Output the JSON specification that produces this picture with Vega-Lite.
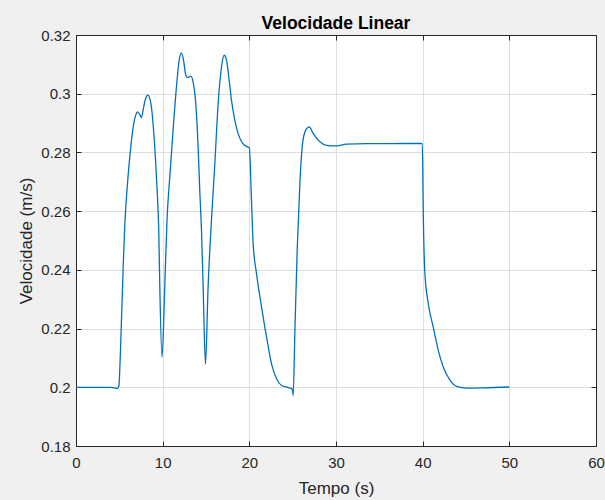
{
  "$schema": "https://vega.github.io/schema/vega-lite/v6.json",
  "autosize": "none",
  "width": 520,
  "height": 411,
  "padding": {"left": 76, "top": 35, "right": 9, "bottom": 54},
  "background": "#f0f0f0",
  "view": {"fill": "white", "stroke": null},
  "config": {
    "font": "Liberation Sans",
    "axis": {
      "domainColor": "#262626",
      "domainWidth": 1,
      "tickColor": "#262626",
      "tickSize": -5,
      "labelColor": "#262626",
      "labelFontSize": 15,
      "labelFont": "Liberation Sans",
      "titleFont": "Liberation Sans",
      "titleFontSize": 17,
      "titleFontWeight": "normal",
      "titleColor": "#262626",
      "gridColor": "#dedede",
      "gridWidth": 1
    }
  },
  "title": {
    "text": "Velocidade Linear",
    "fontSize": 17.5,
    "fontWeight": "bold",
    "color": "#000000",
    "anchor": "middle",
    "offset": 1,
    "dy": 5,
    "font": "Liberation Sans"
  },
  "data": {
    "values": [
      {"t": 0, "v": 0.2},
      {"t": 2, "v": 0.2},
      {"t": 4, "v": 0.2},
      {"t": 4.5, "v": 0.1998},
      {"t": 4.8, "v": 0.1996},
      {"t": 4.95, "v": 0.2005},
      {"t": 5.12, "v": 0.2114},
      {"t": 5.43, "v": 0.2398},
      {"t": 5.62, "v": 0.2546},
      {"t": 6.0, "v": 0.2716},
      {"t": 6.32, "v": 0.2818},
      {"t": 6.66, "v": 0.2898},
      {"t": 6.9, "v": 0.2928},
      {"t": 7.09, "v": 0.2938},
      {"t": 7.3, "v": 0.2932},
      {"t": 7.55, "v": 0.2919},
      {"t": 7.75, "v": 0.2945},
      {"t": 7.93, "v": 0.2972},
      {"t": 8.15, "v": 0.2992},
      {"t": 8.32, "v": 0.2995},
      {"t": 8.5, "v": 0.2985},
      {"t": 8.7, "v": 0.2955},
      {"t": 8.9, "v": 0.2895},
      {"t": 9.09, "v": 0.2818},
      {"t": 9.36, "v": 0.2671},
      {"t": 9.55, "v": 0.2535},
      {"t": 9.67, "v": 0.2341},
      {"t": 9.93, "v": 0.2103},
      {"t": 10.24, "v": 0.2341},
      {"t": 10.5, "v": 0.2569},
      {"t": 10.82, "v": 0.2716},
      {"t": 11.2, "v": 0.2875},
      {"t": 11.59, "v": 0.3023},
      {"t": 11.9, "v": 0.3114},
      {"t": 12.17, "v": 0.3139},
      {"t": 12.44, "v": 0.3108},
      {"t": 12.67, "v": 0.3063},
      {"t": 12.93, "v": 0.3055},
      {"t": 13.24, "v": 0.306},
      {"t": 13.51, "v": 0.304},
      {"t": 13.82, "v": 0.2966},
      {"t": 14.09, "v": 0.2818},
      {"t": 14.28, "v": 0.2671},
      {"t": 14.48, "v": 0.2535},
      {"t": 14.67, "v": 0.2341},
      {"t": 14.94, "v": 0.2078},
      {"t": 15.24, "v": 0.2341},
      {"t": 15.63, "v": 0.2569},
      {"t": 16.02, "v": 0.2762},
      {"t": 16.4, "v": 0.2966},
      {"t": 16.79, "v": 0.3091},
      {"t": 17.09, "v": 0.3131},
      {"t": 17.37, "v": 0.3114},
      {"t": 17.63, "v": 0.3057},
      {"t": 17.94, "v": 0.2978},
      {"t": 18.33, "v": 0.2909},
      {"t": 18.71, "v": 0.2864},
      {"t": 19.21, "v": 0.2832},
      {"t": 19.86, "v": 0.2818},
      {"t": 20.0, "v": 0.2816},
      {"t": 20.25, "v": 0.2637},
      {"t": 20.44, "v": 0.2489},
      {"t": 20.83, "v": 0.2387},
      {"t": 21.41, "v": 0.2273},
      {"t": 21.99, "v": 0.2171},
      {"t": 22.56, "v": 0.208},
      {"t": 23.14, "v": 0.2029},
      {"t": 23.72, "v": 0.2006},
      {"t": 24.48, "v": 0.1999},
      {"t": 24.94, "v": 0.1994},
      {"t": 25.06, "v": 0.1972},
      {"t": 25.25, "v": 0.2183},
      {"t": 25.52, "v": 0.2467},
      {"t": 25.83, "v": 0.2694},
      {"t": 26.14, "v": 0.283},
      {"t": 26.49, "v": 0.2875},
      {"t": 26.91, "v": 0.2887},
      {"t": 27.37, "v": 0.2864},
      {"t": 28.14, "v": 0.2836},
      {"t": 28.91, "v": 0.2824},
      {"t": 29.87, "v": 0.2822},
      {"t": 31.22, "v": 0.2828},
      {"t": 33.53, "v": 0.283},
      {"t": 36.2, "v": 0.283},
      {"t": 39.96, "v": 0.2831},
      {"t": 40.07, "v": 0.2591},
      {"t": 40.26, "v": 0.2387},
      {"t": 40.65, "v": 0.2285},
      {"t": 41.22, "v": 0.2205},
      {"t": 41.8, "v": 0.2126},
      {"t": 42.38, "v": 0.2069},
      {"t": 43.15, "v": 0.2024},
      {"t": 43.92, "v": 0.2003},
      {"t": 45.08, "v": 0.1997},
      {"t": 47.0, "v": 0.1998},
      {"t": 50.0, "v": 0.2001}
    ]
  },
  "layer": [
    {
      "mark": {"type": "line", "color": "#0072BD", "strokeWidth": 1.3, "interpolate": "monotone", "clip": true},
      "encoding": {
        "x": {
          "field": "t", "type": "quantitative",
          "scale": {"domain": [0, 60], "nice": false, "zero": false},
          "axis": {
            "orient": "bottom",
            "values": [0, 10, 20, 30, 40, 50, 60],
            "title": "Tempo (s)",
            "labelPadding": 14,
            "titleY": 47,
            "titleBaseline": "alphabetic",
            "labelFlush": false
          }
        },
        "y": {
          "field": "v", "type": "quantitative",
          "scale": {"domain": [0.18, 0.32], "nice": false, "zero": false},
          "axis": {
            "orient": "left",
            "values": [0.18, 0.2, 0.22, 0.24, 0.26, 0.28, 0.3, 0.32],
            "format": "~g",
            "title": "Velocidade (m/s)",
            "labelPadding": 11,
            "titleX": -44.6,
            "titleY": 205.5,
            "titleAngle": 270,
            "titleAlign": "center",
            "titleBaseline": "alphabetic",
            "labelFlush": false
          }
        }
      }
    },
    {
      "mark": {"type": "line", "strokeOpacity": 0},
      "encoding": {
        "x": {
          "field": "t", "type": "quantitative",
          "axis": {
            "orient": "top",
            "values": [0, 10, 20, 30, 40, 50, 60],
            "labels": false,
            "grid": false,
            "title": null
          }
        },
        "y": {
          "field": "v", "type": "quantitative",
          "axis": {
            "orient": "right",
            "values": [0.18, 0.2, 0.22, 0.24, 0.26, 0.28, 0.3, 0.32],
            "labels": false,
            "grid": false,
            "title": null
          }
        }
      }
    }
  ],
  "resolve": {"axis": {"x": "independent", "y": "independent"}}
}
